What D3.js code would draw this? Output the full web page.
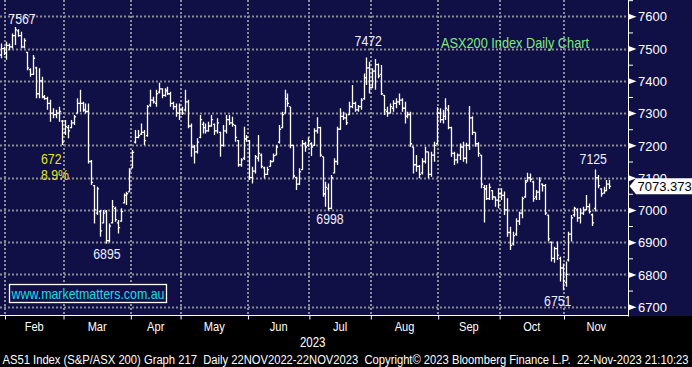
<!DOCTYPE html>
<html><head><meta charset="utf-8">
<script src="https://cdn.jsdelivr.net/npm/d3@7"></script>
<style>html,body{margin:0;padding:0;background:#000;overflow:hidden}svg{display:block}</style>
</head><body><svg id="c" width="692" height="367"></svg>
<script>
// ---- DATA (ASX200 daily OHLC, 30 Jan 2023 - 22 Nov 2023) ----
const opens = [7480,7500,7485,7510,7505,7540,7555,7540,7505,7488,7435,7420,7440,7360,7400,7350,7345,7330,7300,7295,7300,7275,
7240,7255,7255,7270,7300,7330,7330,7310,7305,7150,7075,6990,6995,6960,6995,6905,6960,7005,6960,6965,7022,7045,7056,
7130,7210,7225,7235,7240,7230,7325,7340,7330,7365,7375,7355,7370,7360,7330,7320,7300,
7310,7310,7335,7260,7195,7180,7225,7265,7255,7245,7260,7265,7245,7240,7200,7245,7280,7270,7262,7215,7140,7160,7220,
7215,7100,7120,7160,7170,7130,7110,7135,7150,7170,7210,7255,7300,7345,7320,7200,7100,7080,7125,7205,7200,
7205,7200,7245,7255,7165,7050,7065,7005,7115,7150,7250,7290,7285,7295,7320,7330,7310,7320,7345,7410,7440,
7380,7430,7450,7420,7355,7305,7300,7315,7330,7335,7340,7315,7290,7295,7195,7140,7135,7115,7150,7180,7110,7170,7205,
7300,7280,7290,7310,7255,7175,7155,7170,7195,7160,7200,7285,7240,7205,7170,7070,7065,7035,7060,7040,7030,
7050,7045,7000,6930,6895,6925,6965,6990,7040,7090,7100,7087,7040,7055,7080,7075,6984,6900,6850,6880,6850,6820,
6775,6845,6925,6985,7000,6975,6990,7000,7010,6985,7005,7100,7065,7052,7060,7080];
const highs = [7516,7506,7521,7516,7547,7567,7560,7552,7532,7490,7439,7480,7444,7439,7413,7356,7351,7341,7315,7310,7320,7279,
7279,7263,7279,7294,7346,7372,7335,7330,7330,7155,7077,7072,7000,7000,7000,6958,7031,7010,6969,7005,7051,7056,7129,
7186,7248,7248,7268,7248,7325,7372,7351,7372,7394,7377,7377,7382,7366,7335,7330,7330,
7320,7372,7341,7268,7201,7222,7294,7273,7268,7273,7294,7268,7284,7242,7263,7294,7294,7289,7263,7217,7160,7258,7232,
7217,7134,7170,7232,7175,7134,7134,7155,7175,7201,7263,7304,7372,7361,7320,7201,7103,7129,7217,7211,7225,
7210,7253,7287,7258,7165,7087,7082,7108,7160,7258,7315,7304,7299,7335,7387,7335,7325,7346,7423,7472,7459,
7439,7468,7454,7449,7356,7320,7330,7340,7346,7361,7346,7335,7304,7304,7196,7170,7139,7160,7196,7180,7180,7211,7318,
7315,7310,7346,7325,7258,7180,7175,7206,7211,7208,7322,7290,7240,7210,7170,7077,7077,7082,7062,7041,7067,
7067,7057,7036,6948,6932,6974,6994,7041,7093,7115,7113,7090,7062,7101,7082,7080,6985,6902,6886,6902,6855,6834,
6840,6932,6984,7010,7005,7005,7010,7046,7020,6989,7125,7108,7067,7072,7093,7093];
const lows = [7470,7480,7465,7495,7500,7511,7537,7501,7501,7433,7413,7418,7346,7346,7346,7341,7310,7273,7284,7284,7273,7201,
7232,7222,7253,7263,7299,7304,7304,7299,7144,7077,6958,6984,6917,6958,6895,6900,6958,6963,6927,6963,7020,7015,7056,
7129,7206,7222,7232,7201,7227,7320,7330,7320,7361,7346,7351,7356,7320,7310,7289,7279,
7294,7305,7253,7165,7144,7175,7222,7237,7237,7242,7258,7232,7237,7165,7196,7237,7263,7258,7211,7134,7134,7155,7211,
7093,7082,7113,7150,7129,7098,7108,7134,7150,7170,7206,7253,7299,7320,7191,7098,7062,7077,7124,7180,7196,
7167,7198,7237,7165,7041,7010,6998,7002,7113,7139,7248,7279,7263,7294,7315,7304,7304,7310,7341,7387,7361,
7377,7372,7408,7356,7294,7289,7299,7304,7315,7325,7304,7268,7284,7196,7113,7118,7098,7110,7144,7098,7103,7149,7203,
7270,7268,7279,7250,7165,7139,7144,7155,7149,7144,7186,7232,7196,7165,7067,6961,7031,7031,7031,7010,7005,
7031,6984,6917,6876,6890,6920,6953,6974,7038,7087,7087,7025,7031,7031,7057,6984,6902,6840,6836,6845,6778,6751,
6762,6840,6902,6979,6963,6958,6984,6999,6989,6950,6995,7067,7041,7050,7058,7065];
const closes = [7500,7485,7510,7505,7540,7558,7540,7505,7525,7440,7420,7470,7360,7400,7350,7345,7330,7300,7295,7300,7305,7210,
7258,7245,7270,7288,7330,7330,7310,7305,7150,7085,7000,7065,6935,6990,6905,6950,7010,6970,6945,6995,7045,7050,7120,
7178,7225,7230,7240,7215,7320,7340,7335,7360,7375,7355,7370,7360,7330,7320,7300,7310,
7300,7335,7260,7195,7180,7210,7280,7255,7245,7260,7280,7245,7270,7200,7245,7280,7270,7265,7225,7140,7155,7220,7225,
7100,7120,7165,7175,7135,7110,7125,7150,7168,7195,7250,7295,7345,7330,7200,7105,7080,7118,7205,7195,7215,
7195,7245,7255,7170,7050,7070,7005,7100,7150,7250,7290,7285,7270,7320,7330,7310,7320,7340,7410,7440,7380,
7430,7450,7415,7360,7310,7300,7320,7330,7335,7340,7315,7290,7295,7205,7140,7135,7110,7150,7180,7110,7170,7200,7300,
7280,7290,7315,7255,7175,7155,7170,7195,7160,7200,7285,7240,7205,7175,7080,7065,7035,7070,7040,7030,7050,
7045,7000,6930,6890,6920,6965,6990,7035,7085,7100,7095,7035,7055,7090,7075,6990,6910,6850,6880,6860,6820,6780,
6800,6925,6975,7005,6975,6990,7000,7010,6995,6960,7100,7075,7050,7060,7080,7073];
const monthLabels = ["Feb","Mar","Apr","May","Jun","Jul","Aug","Sep","Oct","Nov"];
const monthStartIdx = [2,22,45,62,85,106,127,150,171,193];
const yTicks = [6700,6800,6900,7000,7100,7200,7300,7400,7500,7600];
const yMinorTicks = [6750,6850,6950,7050,7150,7250,7350,7450,7550,7650];
const lastPrice = 7073.373;
const extremes = [{i:5,v:7567},{i:36,v:6895},{i:125,v:7472},{i:112,v:6998},{i:203,v:7125},{i:192,v:6751}];
const dropStats = ["672","8.9%"];
const titleText = "ASX200 Index Daily Chart";
const siteText = "www.marketmatters.com.au";
const yearLabel = "2023";
const footer = "AS51 Index (S&P/ASX 200) Graph 217  Daily 22NOV2022-22NOV2023  Copyright\u00A9 2023 Bloomberg Finance L.P.  22-Nov-2023 21:10:23";

// ---- LAYOUT ----
const W = 692, H = 367, plotR = 628.5, plotB = 316;
const NAVY = "#100f46", GRID = "#8c8c94";
const svg = d3.select("#c");
const x = d3.scaleLinear().domain([-0.2, 214.35]).range([0, 628]);
const y = d3.scaleLinear().domain([6700, 7600]).range([306.7, 16.3]);

svg.append("rect").attr("width", W).attr("height", H).attr("fill", "#000");
svg.append("rect").attr("width", W).attr("height", plotB).attr("fill", NAVY);

// grid
const g = svg.append("g");
g.selectAll("line.h").data(yTicks).join("line")
  .attr("x1", 0).attr("x2", plotR).attr("y1", d => Math.round(y(d)) + 0.5).attr("y2", d => Math.round(y(d)) + 0.5)
  .attr("stroke", GRID).attr("stroke-width", 2).attr("stroke-dasharray", "2,2");
const bounds = monthStartIdx.map(i => i - 0.5);
g.selectAll("line.v").data(bounds).join("line")
  .attr("y1", 0).attr("y2", plotB).attr("x1", d => Math.round(x(d))).attr("x2", d => Math.round(x(d)))
  .attr("stroke", GRID).attr("stroke-width", 2).attr("stroke-dasharray", "2,2");

// OHLC bars
const bars = d3.range(closes.length);
svg.append("clipPath").attr("id", "pc").append("rect").attr("width", plotR).attr("height", plotB);
const bg = svg.append("g").attr("clip-path", "url(#pc)").attr("stroke", "#fff").attr("stroke-width", 1.3).attr("fill", "none");
bg.selectAll("path").data(bars).join("path").attr("d", i => {
  const cx = Math.round(x(i)) + 0.5;
  return `M${cx},${y(highs[i])}V${y(lows[i])}M${cx - 1.6},${y(opens[i])}H${cx}M${cx},${y(closes[i])}H${cx + 1.6}`;
});

// axes frame
svg.append("line").attr("x1", plotR).attr("x2", plotR).attr("y1", 0).attr("y2", plotB + 0.5).attr("stroke", "#fff");
const xAxis = svg.append("g").attr("transform", `translate(0,${plotB - 0.5})`)
  .call(d3.axisBottom(x).tickValues(bounds).tickSize(4).tickSizeOuter(0).tickFormat(""));
xAxis.select(".domain").attr("stroke", "#fff").attr("d", `M0,0H${plotR}`);
xAxis.selectAll(".tick line").attr("stroke", "#fff");

// month labels (narrowed)
const narrow = (sel, f) => sel.each(function () { const l = this.getComputedTextLength(); d3.select(this).attr("textLength", l * f).attr("lengthAdjust", "spacingAndGlyphs"); });
const mids = bounds.map((b, k) => (x(b) + (k < bounds.length - 1 ? x(bounds[k + 1]) : plotR)) / 2);
svg.selectAll("text.m").data(monthLabels).join("text")
  .attr("x", (d, k) => mids[k]).attr("y", 331).attr("text-anchor", "middle")
  .attr("font-family", "Liberation Sans, Arial, sans-serif").attr("font-size", 13.5).attr("fill", "#fff")
  .text(d => d).call(narrow, 0.82);
svg.append("text").attr("x", (x(bounds[5]) + x(bounds[4])) / 2 + 34).attr("y", 347).attr("text-anchor", "middle")
  .attr("font-family", "Liberation Sans, Arial, sans-serif").attr("font-size", 14).attr("fill", "#fff")
  .text(yearLabel).call(narrow, 0.82);
svg.append("text").attr("x", 2.5).attr("y", 363.5).style("white-space", "pre")
  .attr("font-family", "Liberation Sans, Arial, sans-serif").attr("font-size", 12).attr("fill", "#fff")
  .attr("textLength", 686).attr("lengthAdjust", "spacingAndGlyphs").text(footer);

// y axis
const yAxis = svg.append("g").attr("transform", `translate(${plotR},0)`)
  .call(d3.axisRight(y).tickValues(yTicks).tickSize(0).tickPadding(9.5).tickFormat(d3.format("d")));
yAxis.select(".domain").remove();
yAxis.selectAll("text").attr("font-family", "Liberation Sans, Arial, sans-serif").attr("font-size", 13).attr("fill", "#fff").attr("dy", "0.36em");
yAxis.selectAll(".tick").append("path").attr("d", "M0,-3L8,0L0,3Z").attr("fill", "#fff");
const yMinor = svg.append("g").attr("transform", `translate(${plotR},0)`)
  .call(d3.axisRight(y).tickValues(yMinorTicks).tickSize(4.5).tickFormat(""));
yMinor.select(".domain").remove();
yMinor.selectAll("line").attr("stroke", "#fff");

// last price tag
const ly = y(lastPrice);
svg.append("path").attr("d", `M${plotR + 1},${ly}L${plotR + 7.5},${ly - 8}H${W}V${ly + 8}H${plotR + 7.5}Z`).attr("fill", "#fff");
svg.append("text").attr("x", plotR + 9).attr("y", ly + 4.6).attr("font-family", "Liberation Sans, Arial, sans-serif")
  .attr("font-size", 13).attr("fill", "#000").text(d3.format(".3f")(lastPrice));

// annotations
const AF = "Liberation Sans, Arial, sans-serif";
const offs = [[6.8, -3], [1, 15.7], [1.8, -11.6], [1.6, 13.4], [-1.5, -6], [-4.8, 16.2]];
svg.selectAll("text.ex").data(extremes).join("text")
  .attr("x", (d, k) => x(d.i) + offs[k][0]).attr("y", (d, k) => y(d.v) + offs[k][1]).attr("text-anchor", "middle")
  .attr("font-family", AF).attr("font-size", 15).attr("fill", "#eef0ff").text(d => d.v).call(narrow, 0.82);
svg.selectAll("text.ds").data(dropStats).join("text")
  .attr("x", x(13.8)).attr("y", (d, k) => y(k ? 7092 : 7142))
  .attr("font-family", AF).attr("font-size", 15).attr("fill", "#e4e81c").text(d => d).call(narrow, 0.82);
svg.append("text").attr("x", 441).attr("y", 48.3).attr("font-family", AF).attr("font-size", 15)
  .attr("fill", "#7ded7d").attr("textLength", 148).attr("lengthAdjust", "spacingAndGlyphs").text(titleText);
svg.append("rect").attr("x", 9.5).attr("y", 284.5).attr("width", 157).attr("height", 18).attr("fill", NAVY)
  .attr("stroke", "#fff").attr("stroke-width", 1.3);
svg.append("text").attr("x", 11.5).attr("y", 298.5).attr("font-family", AF).attr("font-size", 15)
  .attr("fill", "#19dfe6").attr("textLength", 153).attr("lengthAdjust", "spacingAndGlyphs").text(siteText);
</script></body></html>
